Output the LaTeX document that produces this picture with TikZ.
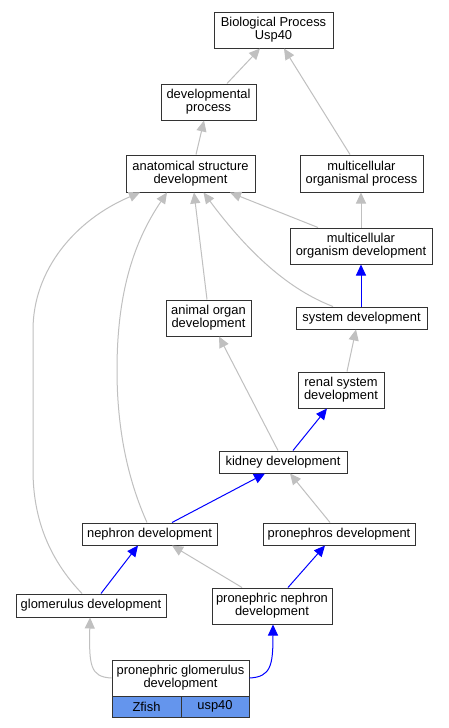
\documentclass[tikz,border=0pt]{standalone}
\usepackage{fontspec}
\setmainfont{Liberation Sans}
\usetikzlibrary{arrows.meta}
\definecolor{edgegray}{HTML}{C0C0C0}
\definecolor{cellblue}{HTML}{6495ED}
\definecolor{edgeblue}{HTML}{0000FF}
\begin{document}
\begin{tikzpicture}[x=1pt,y=-1pt,
  term/.style={draw=black!80,line width=1pt,fill=white,align=center,inner sep=0pt,font=\fontsize{12.9}{12.7}\selectfont},
  cell/.style={term,fill=cellblue,minimum height=21pt},
  isa/.style={edgegray,line width=1pt,-{Triangle[length=11pt,width=10pt]}},
  partof/.style={edgeblue,line width=1pt,-{Triangle[length=11pt,width=10pt]}}]
\fill[white] (0,0) rectangle (448,728);
% terms
\node[term,minimum width=119pt,minimum height=36pt] (bp) at (273.5,30) {Biological Process\\Usp40};
\node[term,minimum width=95pt,minimum height=36pt] (dp) at (208.5,102) {developmental\\process};
\node[term,minimum width=129pt,minimum height=37pt] (asd) at (190.5,173.5) {anatomical structure\\development};
\node[term,minimum width=123pt,minimum height=37pt] (mop) at (361.5,173.5) {multicellular\\organismal process};
\node[term,minimum width=142pt,minimum height=36pt] (mod) at (361,246) {multicellular\\organism development};
\node[term,minimum width=85pt,minimum height=36pt] (aod) at (208.5,318) {animal organ\\development};
\node[term,minimum width=131pt,minimum height=22pt] (sd) at (361.5,318) {system development};
\node[term,minimum width=86pt,minimum height=36pt] (rsd) at (341,390) {renal system\\development};
\node[term,minimum width=128pt,minimum height=22pt] (kd) at (283,462) {kidney development};
\node[term,minimum width=135pt,minimum height=22pt] (nd) at (149.5,534) {nephron development};
\node[term,minimum width=152pt,minimum height=22pt] (pd) at (339,534) {pronephros development};
\node[term,minimum width=150pt,minimum height=23pt] (gd) at (91,605.5) {glomerulus development};
\node[term,minimum width=120pt,minimum height=36pt] (pnd) at (272,606) {pronephric nephron\\development};
\node[term,minimum width=137pt,minimum height=36pt] (pgd) at (180.5,678) {pronephric glomerulus\\development};
\node[cell,minimum width=69pt] (zf) at (146.5,706.5) {Zfish};
\node[cell,minimum width=68pt] (up) at (215,706.5) {usp40};
% edges
\draw[isa] ([xshift=18.5pt]dp.north) -- ([xshift=-13.5pt]bp.south);
\draw[isa] ([xshift=-11.5pt]mop.north) -- ([xshift=10.5pt]bp.south);
\draw[isa] ([xshift=5.5pt]asd.north) -- ([xshift=-4.5pt]dp.south);
\draw[isa] (mod.north) -- (mod.north |- mop.south);
\draw[isa] ([xshift=-43pt]mod.north) -- ([xshift=39.5pt]asd.south);
\draw[partof] ([xshift=-0.5pt]sd.north) -- (mod.south);
\draw[isa] ([xshift=-28.5pt]sd.north) .. controls (290,290) and (250,255) .. ([xshift=13pt]asd.south);
\draw[isa] ([xshift=-1.5pt]aod.north) -- ([xshift=3.5pt]asd.south);
\draw[isa] ([xshift=6pt]rsd.north) -- ([xshift=-5.5pt]sd.south);
\draw[isa] ([xshift=-5pt]kd.north) -- ([xshift=10.5pt]aod.south);
\draw[partof] ([xshift=10pt]kd.north) -- ([xshift=-14pt]rsd.south);
\draw[partof] ([xshift=22.5pt]nd.north) -- ([xshift=-18pt]kd.south);
\draw[isa] ([xshift=-9pt]pd.north) -- ([xshift=7pt]kd.south);
\draw[isa] ([xshift=-2.5pt]nd.north) .. controls (128,480) and (117,430) .. (117,370)
  .. controls (117,290) and (135,240) .. ([xshift=-23.5pt]asd.south);
\draw[isa] ([xshift=-9pt]gd.north) .. controls (50,560) and (33,520) .. (33,470) -- (33,330)
  .. controls (33,270) and (75,220) .. ([xshift=-50.5pt]asd.south);
\draw[partof] ([xshift=10pt]gd.north) -- ([xshift=-11.5pt]nd.south);
\draw[isa] ([xshift=-30pt]pnd.north) -- ([xshift=22.5pt]nd.south);
\draw[partof] ([xshift=16pt]pnd.north) -- ([xshift=-14pt]pd.south);
\draw[isa] (pgd.west) .. controls (90,677) and (89,665) .. ([xshift=-1pt]gd.south);
\draw[partof] (pgd.east) .. controls (271,677) and (273,665) .. ([xshift=1pt]pnd.south);
\end{tikzpicture}
\end{document}
